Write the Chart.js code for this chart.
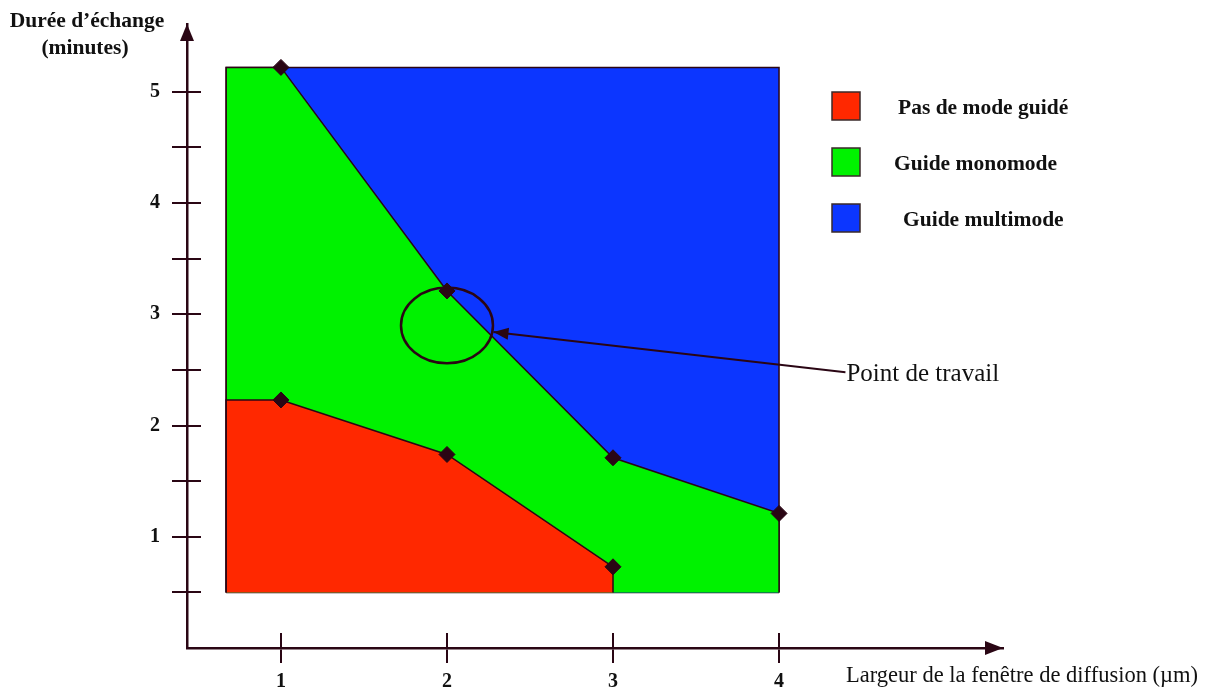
<!doctype html>
<meta charset="utf-8">
<title>Durée d'échange</title>
<style>
    html, body { margin: 0; padding: 0; background: #fff; }
    #wrap { width: 1211px; height: 691px; }
</style>
<body>
<div id="wrap"><canvas id="chart"></canvas></div>
<script src="https://cdn.jsdelivr.net/npm/chart.js@4.4.1/dist/chart.umd.min.js"></script>
<script>
    // zones (x : largeur en µm, y : durée en minutes)
    const regionNames = ["Pas de mode guidé", "Guide monomode", "Guide multimode"];
    const redX = [0.67, 0.67, 1, 2, 3, 3];
    const redY = [0.5, 2.23, 2.23, 1.74, 0.73, 0.5];
    const greenX = [0.67, 0.67, 1, 2, 3, 4, 4];
    const greenY = [0.5, 5.22, 5.22, 3.21, 1.71, 1.21, 0.5];
    const blueX = [0.67, 0.67, 4, 4];
    const blueY = [0.5, 5.22, 5.22, 0.5];
    const baseX = [0.67, 4];
    const baseY = [0.5, 0.5];
    const markX = [1, 2, 3, 4, 1, 2, 3];
    const markY = [5.22, 3.21, 1.71, 1.21, 2.23, 1.74, 0.73];
    const xTicks = [1, 2, 3, 4];
    const yTicks = [0.5, 1, 1.5, 2, 2.5, 3, 3.5, 4, 4.5, 5];
    const workPoint = { x: 2, y: 2.9, rx: 0.277, ry: 0.34 };
    const workLabel = { x: 4.4, y: 2.48, tipX: 2.28, tipY: 2.84, text: "Point de travail" };
    const yTitle = ["Durée d’échange", "(minutes)"];
    const xTitle = "Largeur de la fenêtre de diffusion (µm)";

    const DARK = "#2a0614";
    const colors = ["#ff2800", "#00f200", "#0c36ff"];
    const serif = '"Liberation Serif", "Times New Roman", serif';

    const zip = (xs, ys) => xs.map((x, i) => ({ x: x, y: ys[i] }));

    const region = (label, xs, ys, color) => ({
        label: label,
        data: zip(xs, ys),
        backgroundColor: color,
        borderColor: DARK,
        borderWidth: 1.5,
        pointRadius: 0,
        fill: { value: 0.5 },
    });

    const arrowHead = (ctx, x, y, angle, len, half) => {
        ctx.save();
        ctx.translate(x, y);
        ctx.rotate(angle);
        ctx.beginPath();
        ctx.moveTo(0, 0);
        ctx.lineTo(-len, -half);
        ctx.lineTo(-len, half);
        ctx.closePath();
        ctx.fill();
        ctx.restore();
    };

    const decor = {
        id: "decor",
        afterDraw(chart) {
            const ctx = chart.ctx;
            const xs = chart.scales.x, ys = chart.scales.y;
            const area = chart.chartArea;
            ctx.save();
            ctx.strokeStyle = DARK;
            ctx.fillStyle = DARK;
            ctx.lineWidth = 2;

            // inner half of the tick marks
            ctx.beginPath();
            ys.ticks.forEach(t => {
                const py = Math.round(ys.getPixelForValue(t.value));
                ctx.moveTo(area.left, py);
                ctx.lineTo(area.left + 14, py);
            });
            xs.ticks.forEach(t => {
                const px = Math.round(xs.getPixelForValue(t.value));
                ctx.moveTo(px, area.bottom);
                ctx.lineTo(px, area.bottom - 15);
            });
            ctx.stroke();

            // axis arrows
            arrowHead(ctx, area.left, area.top, -Math.PI / 2, 17, 7);
            arrowHead(ctx, area.right, area.bottom, 0, 18, 7);

            // working point
            ctx.lineWidth = 2.5;
            const cx = xs.getPixelForValue(workPoint.x), cy = ys.getPixelForValue(workPoint.y);
            const rx = xs.getPixelForValue(workPoint.x + workPoint.rx) - cx;
            const ry = cy - ys.getPixelForValue(workPoint.y + workPoint.ry);
            ctx.beginPath();
            ctx.ellipse(cx, cy, rx, ry, 0, 0, 2 * Math.PI);
            ctx.stroke();

            const lx = xs.getPixelForValue(workLabel.x), ly = ys.getPixelForValue(workLabel.y);
            const tx = xs.getPixelForValue(workLabel.tipX), ty = ys.getPixelForValue(workLabel.tipY);
            ctx.lineWidth = 2;
            ctx.beginPath();
            ctx.moveTo(lx, ly);
            ctx.lineTo(tx, ty);
            ctx.stroke();
            arrowHead(ctx, tx, ty, Math.atan2(ty - ly, tx - lx), 15, 6);

            ctx.fillStyle = "#111";
            ctx.textBaseline = "middle";
            ctx.textAlign = "left";
            ctx.font = "25px " + serif;
            ctx.fillText(workLabel.text, lx + 1, ly + 2);

            // axis titles
            ctx.font = "bold 21.5px " + serif;
            ctx.textAlign = "center";
            ctx.fillText(yTitle[0], 87, 21);
            ctx.fillText(yTitle[1], 85, 48);
            ctx.font = "22.5px " + serif;
            ctx.textAlign = "left";
            ctx.fillText(xTitle, 846, 676);

            // legend
            const textX = [898, 894, 903];
            ctx.font = "bold 21.5px " + serif;
            regionNames.forEach((name, i) => {
                const top = 92 + i * 56;
                ctx.fillStyle = colors[i];
                ctx.fillRect(832, top, 28, 28);
                ctx.strokeStyle = "#3a2a2a";
                ctx.lineWidth = 1.5;
                ctx.strokeRect(832, top, 28, 28);
                ctx.fillStyle = "#111";
                ctx.fillText(name, textX[i], top + 16);
            });
            ctx.restore();
        }
    };

    Chart.defaults.font.family = serif;

    new Chart(document.getElementById("chart"), {
        type: "line",
        data: {
            datasets: [{
                label: "points",
                data: zip(markX, markY),
                showLine: false,
                pointStyle: "rectRot",
                pointRadius: 8,
                pointBackgroundColor: DARK,
                pointBorderColor: DARK,
                fill: false,
            },
            region(regionNames[0], redX, redY, colors[0]),
            region(regionNames[1], greenX, greenY, colors[1]),
            region(regionNames[2], blueX, blueY, colors[2]),
            {
                label: "base",
                data: zip(baseX, baseY),
                borderColor: DARK,
                borderWidth: 1.5,
                pointRadius: 0,
                fill: false,
            }],
        },
        options: {
            responsive: true,
            maintainAspectRatio: false,
            animation: false,
            layout: { padding: { left: 37, top: 22, right: 208, bottom: 0 } },
            plugins: {
                legend: { display: false },
                tooltip: { enabled: false },
            },
            scales: {
                x: {
                    type: "linear",
                    min: 0.434,
                    max: 5.349,
                    afterBuildTicks: s => { s.ticks = xTicks.map(v => ({ value: v })); },
                    afterFit: s => { s.height = 43; },
                    grid: { drawOnChartArea: false, tickLength: 15, color: DARK, lineWidth: 2 },
                    border: { color: DARK, width: 2.5 },
                    ticks: { padding: 7, color: "#111", font: { size: 20, weight: "bold" } },
                },
                y: {
                    min: 0,
                    max: 5.61,
                    afterBuildTicks: s => { s.ticks = yTicks.map(v => ({ value: v })); },
                    afterFit: s => { s.width = 150; },
                    grid: { drawOnChartArea: false, tickLength: 15, color: DARK, lineWidth: 2 },
                    border: { color: DARK, width: 2.5 },
                    ticks: {
                        padding: 12,
                        color: "#111",
                        font: { size: 20, weight: "bold" },
                        callback: v => Number.isInteger(v) ? v : "",
                    },
                },
            },
        },
        plugins: [decor],
    });
</script>
</body>
